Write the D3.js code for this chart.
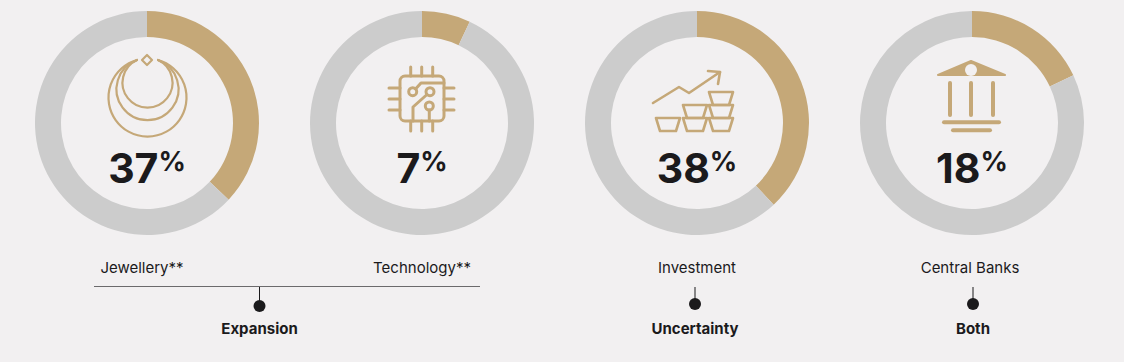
<!DOCTYPE html>
<html>
<head>
<meta charset="utf-8">
<script src="https://cdn.jsdelivr.net/npm/d3@7"></script>
<style>
  html, body { margin: 0; padding: 0; background: #f2f0f1; }
  svg { display: block; }
  text { font-family: Inter, "Noto Sans", sans-serif; fill: #1b1a1c; }
  .icon { fill: none; stroke: #c5a878; stroke-linecap: round; stroke-linejoin: round; }
</style>
</head>
<body>
<svg id="chart" width="1124" height="362"></svg>
<script>
  var width = 1124, height = 362

  var categories = ["Jewellery**", "Technology**", "Investment", "Central Banks"]
  var values = [37, 7, 38, 18]
  var groupNames = ["Expansion", "Uncertainty", "Both"]
  var groupMembers = [["Jewellery**", "Technology**"], ["Investment"], ["Central Banks"]]

  var gold = "#c5a878", grey = "#cccccc", ink = "#1b1a1c", paper = "#f2f0f1"

  var svg = d3.select("#chart")

  var x = d3.scalePoint().domain(categories).range([147, 972])
  var cy = 123

  var pie = d3.pie().sort(null)
  var arc = d3.arc().innerRadius(86).outerRadius(112)

  var donut = svg.selectAll("g.donut")
    .data(categories)
    .enter().append("g")
    .attr("class", "donut")
    .attr("transform", function(d) { return "translate(" + x(d) + "," + cy + ")" })

  donut.selectAll("path")
    .data(function(d, i) { return pie([values[i], 100 - values[i]]) })
    .enter().append("path")
    .attr("d", arc)
    .attr("fill", function(d, i) { return i == 0 ? gold : grey })

  // big number, with the % raised next to it
  var num = donut.append("text")
    .attr("y", 60)
    .attr("text-anchor", "middle")
    .style("font-weight", 700)
    .style("font-size", "41px")

  num.append("tspan")
    .text(function(d, i) { return values[i] })

  num.append("tspan")
    .attr("dy", -12)
    .style("font-size", "27px")
    .text("%")

  // labels under each donut
  var labelOffset = [-5, 0, 0, -2]
  svg.selectAll("text.label")
    .data(categories)
    .enter().append("text")
    .attr("class", "label")
    .attr("x", function(d, i) { return x(d) + labelOffset[i] })
    .attr("y", 273)
    .attr("text-anchor", "middle")
    .style("font-size", "15px")
    .text(function(d) { return d })

  // rule joining the two expansion labels
  svg.append("line")
    .attr("x1", 94).attr("x2", 480)
    .attr("y1", 286.5).attr("y2", 286.5)
    .attr("stroke", "#6b6a6c")
    .attr("stroke-width", 1)

  var groupX = [259.5, 695, 973]
  var dotY = [306, 304, 304]

  var group = svg.selectAll("g.group")
    .data(groupNames)
    .enter().append("g")
    .attr("class", "group")

  group.append("line")
    .attr("x1", function(d, i) { return groupX[i] })
    .attr("x2", function(d, i) { return groupX[i] })
    .attr("y1", 287)
    .attr("y2", function(d, i) { return dotY[i] })
    .attr("stroke", ink)
    .attr("stroke-width", 1)

  group.append("circle")
    .attr("cx", function(d, i) { return groupX[i] })
    .attr("cy", function(d, i) { return dotY[i] })
    .attr("r", 6)
    .attr("fill", ink)

  group.append("text")
    .attr("x", function(d, i) { return groupX[i] })
    .attr("y", 334)
    .attr("text-anchor", "middle")
    .style("font-size", "15px")
    .style("font-weight", 700)
    .text(function(d) { return d })

  // icons, drawn in page pixels
  var necklace = svg.append("g").attr("class", "icon").attr("stroke-width", 2.2)
  necklace.append("path").attr("d", "M137 60A25 25 0 1 0 158 60")
  necklace.append("path").attr("d", "M137 60A31 31 0 1 0 158 60")
  necklace.append("path").attr("d", "M137 60A39 39 0 1 0 158 60")
  necklace.append("path").attr("d", "M147 55L152 60L147 65L142 60Z")

  var chip = svg.append("g").attr("class", "icon").attr("stroke-width", 3)
  chip.append("rect").attr("x", 400).attr("y", 76).attr("width", 44).attr("height", 45).attr("rx", 5)
  ;[410.7, 421.7, 432.7].forEach(function(p) {
    chip.append("path").attr("d", "M" + p + " 67V76M" + p + " 121V131")
  })
  ;[88, 99, 110].forEach(function(p) {
    chip.append("path").attr("d", "M389 " + p + "H400M444 " + p + "H454")
  })
  chip.selectAll("circle")
    .data([[412.7, 91.7], [430, 91.7], [429.3, 106]])
    .enter().append("circle")
    .attr("cx", function(d) { return d[0] })
    .attr("cy", function(d) { return d[1] })
    .attr("r", 4)
  chip.append("path").attr("d", "M415.5 89L421 83H444")
  chip.append("path").attr("d", "M427 94.5L413 107V121")
  chip.append("path").attr("d", "M429.3 110V121")

  var bars = svg.append("g").attr("class", "icon").attr("stroke-width", 2.6)
  bars.append("path").attr("d", "M653 103L679 87L689 93L720 72")
  bars.append("path").attr("d", "M708 71L720 72L718 84")
  function ingot(x0, y0) {
    bars.append("path").attr("d", "M" + x0 + " " + y0 + "H" + (x0 + 24) +
      "L" + (x0 + 20) + " " + (y0 + 13) + "H" + (x0 + 4) + "Z")
  }
  ingot(656, 118); ingot(683, 118); ingot(709, 118)
  ingot(683, 105); ingot(709, 105); ingot(709, 92)

  var bank = svg.append("g")
  bank.append("path").attr("d", "M938 75L971 61L1005 75Z").attr("fill", gold)
    .attr("stroke", gold).attr("stroke-width", 2).attr("stroke-linejoin", "round")
  bank.append("circle").attr("cx", 971).attr("cy", 70).attr("r", 6).attr("fill", paper)
  var bankLines = svg.append("g").attr("class", "icon").attr("stroke-width", 4)
  ;[950, 971, 993].forEach(function(p) {
    bankLines.append("path").attr("d", "M" + p + " 83V115")
  })
  bankLines.append("path").attr("d", "M944 122.3H999")
  bankLines.append("path").attr("d", "M953 130.3H990")
</script>
</body>
</html>
